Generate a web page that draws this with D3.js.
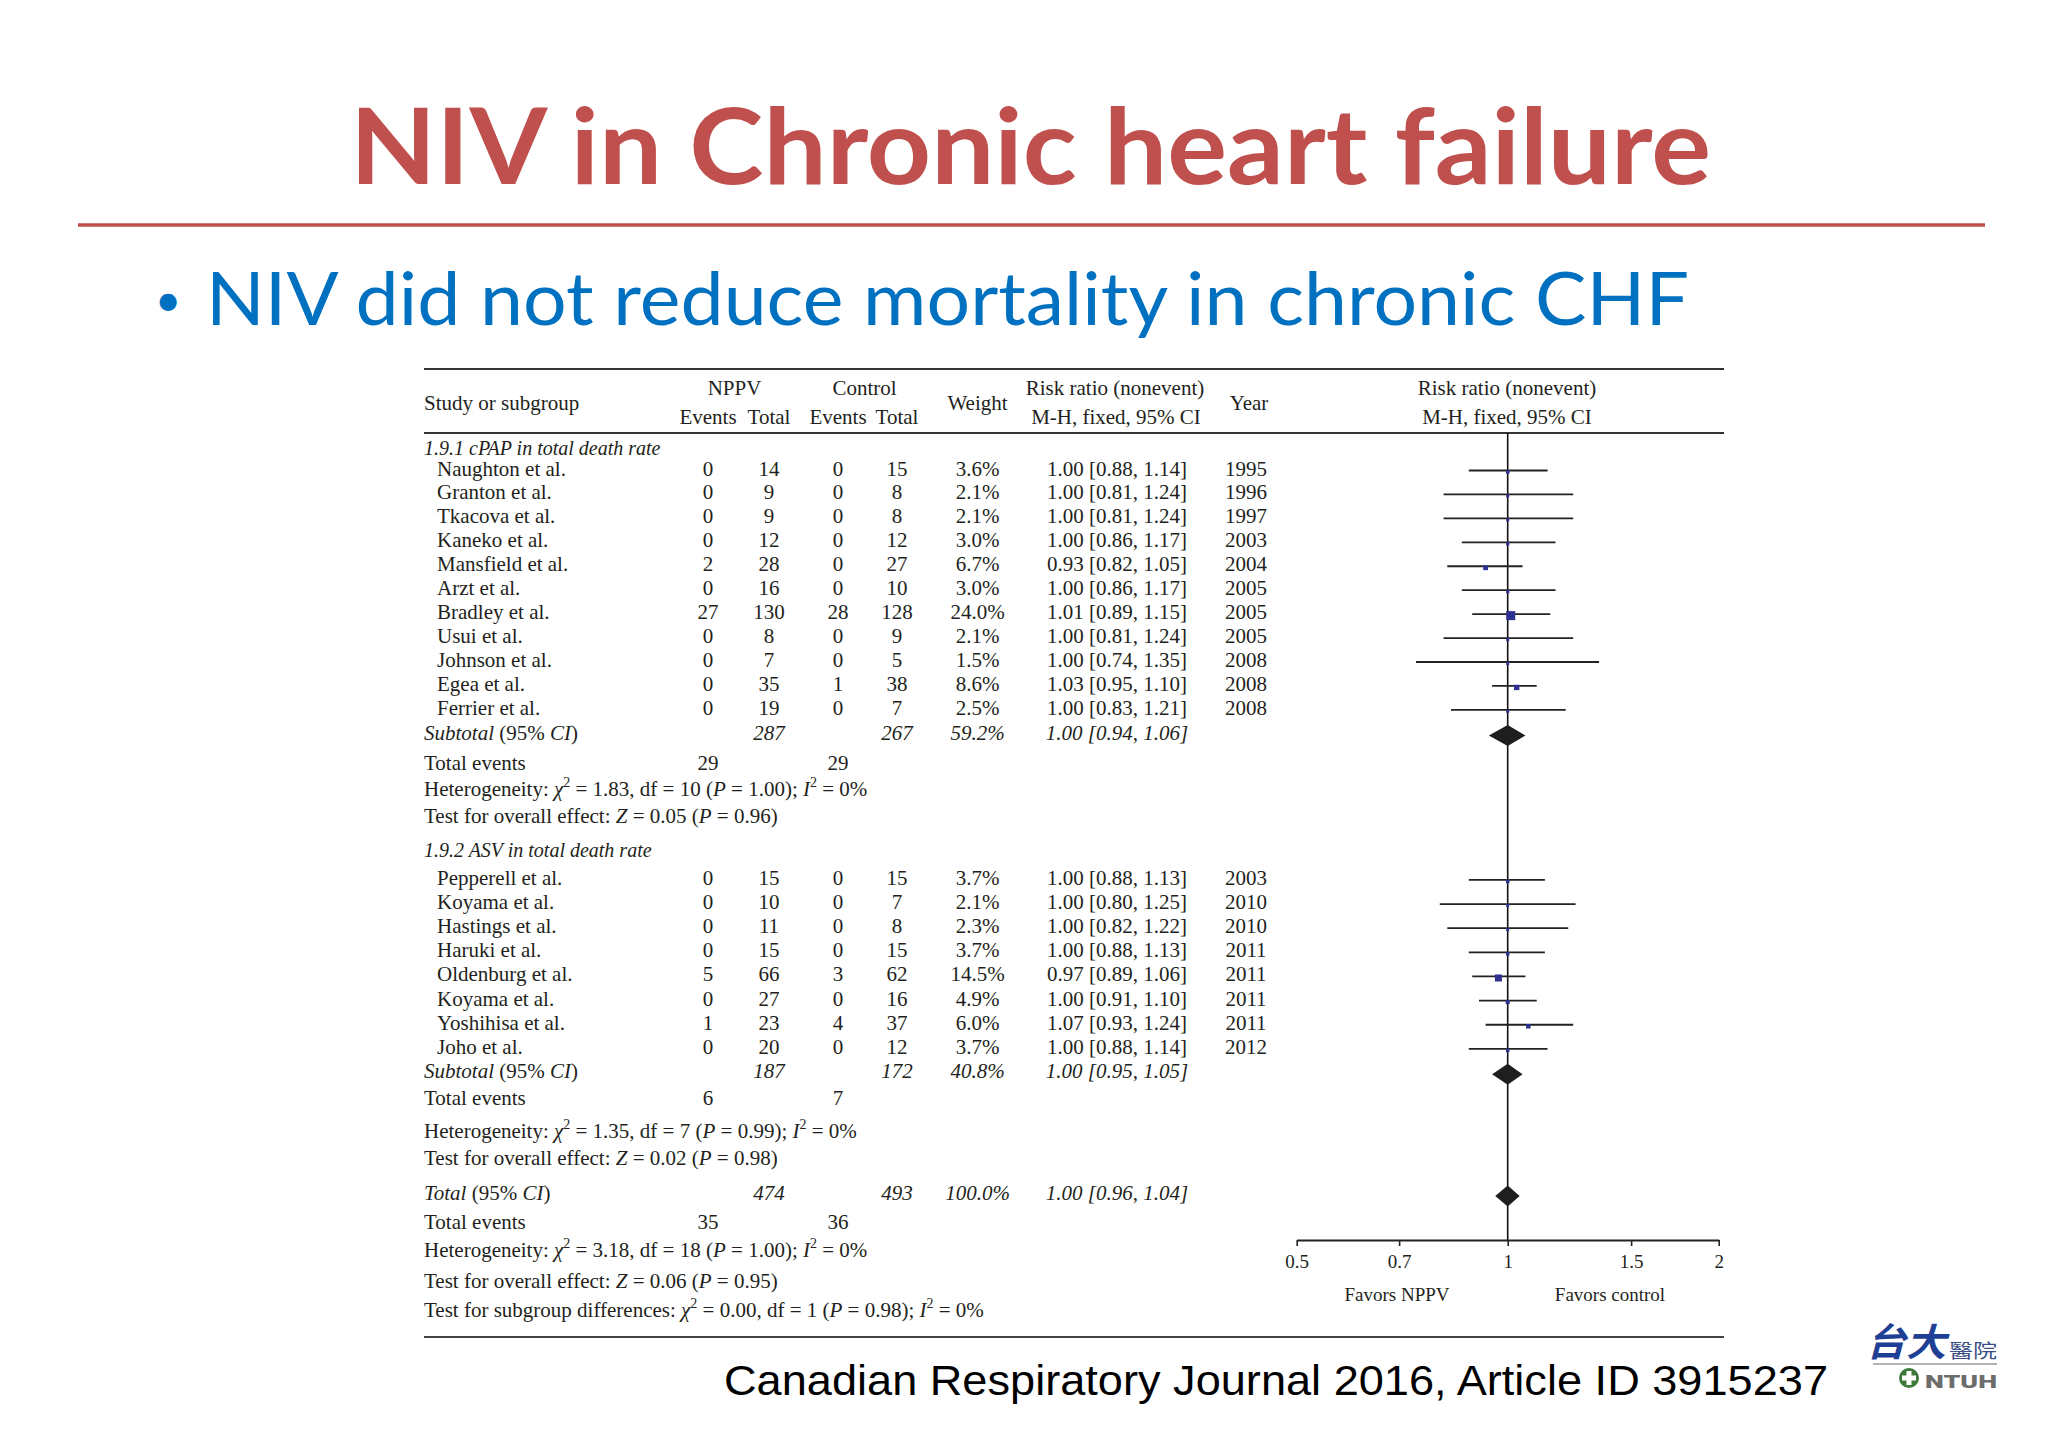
<!DOCTYPE html>
<html>
<head>
<meta charset="utf-8">
<script src="https://cdn.jsdelivr.net/npm/d3@7"></script>
<style>
  body { margin: 0; background: #fff; }
  svg { display: block; }
</style>
</head>
<body>
<div id="slide"></div>
<script>
// ---- data ----
const titleText = "NIV in Chronic heart failure";
const bulletText = "NIV did not reduce mortality in chronic CHF";
const sourceText = "Canadian Respiratory Journal 2016, Article ID 3915237";

const groupLabels = ["1.9.1 cPAP in total death rate", "1.9.2 ASV in total death rate"];

const cpapStudies = ["Naughton et al.", "Granton et al.", "Tkacova et al.", "Kaneko et al.", "Mansfield et al.",
    "Arzt et al.", "Bradley et al.", "Usui et al.", "Johnson et al.", "Egea et al.", "Ferrier et al."];
const cpapNppvEvents = [0, 0, 0, 0, 2, 0, 27, 0, 0, 0, 0];
const cpapNppvTotal = [14, 9, 9, 12, 28, 16, 130, 8, 7, 35, 19];
const cpapCtrlEvents = [0, 0, 0, 0, 0, 0, 28, 0, 0, 1, 0];
const cpapCtrlTotal = [15, 8, 8, 12, 27, 10, 128, 9, 5, 38, 7];
const cpapWeight = [3.6, 2.1, 2.1, 3.0, 6.7, 3.0, 24.0, 2.1, 1.5, 8.6, 2.5];
const cpapRR = [1.00, 1.00, 1.00, 1.00, 0.93, 1.00, 1.01, 1.00, 1.00, 1.03, 1.00];
const cpapLow = [0.88, 0.81, 0.81, 0.86, 0.82, 0.86, 0.89, 0.81, 0.74, 0.95, 0.83];
const cpapHigh = [1.14, 1.24, 1.24, 1.17, 1.05, 1.17, 1.15, 1.24, 1.35, 1.10, 1.21];
const cpapYear = [1995, 1996, 1997, 2003, 2004, 2005, 2005, 2005, 2008, 2008, 2008];

const asvStudies = ["Pepperell et al.", "Koyama et al.", "Hastings et al.", "Haruki et al.", "Oldenburg et al.",
    "Koyama et al.", "Yoshihisa et al.", "Joho et al."];
const asvNppvEvents = [0, 0, 0, 0, 5, 0, 1, 0];
const asvNppvTotal = [15, 10, 11, 15, 66, 27, 23, 20];
const asvCtrlEvents = [0, 0, 0, 0, 3, 0, 4, 0];
const asvCtrlTotal = [15, 7, 8, 15, 62, 16, 37, 12];
const asvWeight = [3.7, 2.1, 2.3, 3.7, 14.5, 4.9, 6.0, 3.7];
const asvRR = [1.00, 1.00, 1.00, 1.00, 0.97, 1.00, 1.07, 1.00];
const asvLow = [0.88, 0.80, 0.82, 0.88, 0.89, 0.91, 0.93, 0.88];
const asvHigh = [1.13, 1.25, 1.22, 1.13, 1.06, 1.10, 1.24, 1.14];
const asvYear = [2003, 2010, 2010, 2011, 2011, 2011, 2011, 2012];

// subgroup 1, subgroup 2, overall
const pooledNppvTotal = [287, 187, 474];
const pooledCtrlTotal = [267, 172, 493];
const pooledWeight = ["59.2%", "40.8%", "100.0%"];
const pooledRR = [1.00, 1.00, 1.00];
const pooledLow = [0.94, 0.95, 0.96];
const pooledHigh = [1.06, 1.05, 1.04];
const pooledNppvEvents = [29, 6, 35];
const pooledCtrlEvents = [29, 7, 36];
const hetChi = ["1.83", "1.35", "3.18"];
const hetDf = [10, 7, 18];
const hetP = ["1.00", "0.99", "1.00"];
const hetI2 = [0, 0, 0];
const zValue = ["0.05", "0.02", "0.06"];
const zP = ["0.96", "0.98", "0.95"];
const subgroupTest = {chi: "0.00", df: 1, p: "0.98", i2: 0};

const axisTicks = [0.5, 0.7, 1, 1.5, 2];
const axisLabels = ["0.5", "0.7", "1", "1.5", "2"];
const favorLabels = ["Favors NPPV", "Favors control"];

// ---- drawing ----
const W = 2048, H = 1447;
const svg = d3.select("#slide").append("svg")
    .attr("width", W).attr("height", H);
svg.append("rect").attr("width", W).attr("height", H).attr("fill", "#fff");

const RED = "#C0504D", BLUE = "#0070C0", INK = "#231f20";
const SERIF = "'Liberation Serif', 'DejaVu Serif', serif";

// title + rule
svg.append("text")
    .attr("x", 350).attr("y", 184)
    .attr("textLength", 1361).attr("lengthAdjust", "spacingAndGlyphs")
    .attr("font-family", "Lato, 'Open Sans', sans-serif")
    .attr("font-weight", 700).attr("font-size", 106)
    .attr("fill", RED).text(titleText);

svg.append("line")
    .attr("x1", 78).attr("x2", 1985).attr("y1", 225).attr("y2", 225)
    .attr("stroke", RED).attr("stroke-width", 3.5);

svg.append("text")
    .attr("x", 168).attr("y", 316).attr("text-anchor", "middle")
    .attr("font-family", "Lato, sans-serif").attr("font-size", 46)
    .attr("fill", BLUE).text("\u2022");
svg.append("text")
    .attr("x", 206).attr("y", 325)
    .attr("textLength", 1483).attr("lengthAdjust", "spacingAndGlyphs")
    .attr("font-family", "Lato, 'Open Sans', sans-serif")
    .attr("font-size", 74).attr("fill", BLUE).text(bulletText);

// ---- forest table ----
const tableLeft = 424, tableRight = 1724;
const col = {name: 437, label: 424, nEv: 708, nTot: 769, cEv: 838, cTot: 897, weight: 977.5, rr: 1117, year: 1246};
const fs = 21;
const g = svg.append("g").attr("font-family", SERIF).attr("font-size", fs).attr("fill", INK);

// text helper: segments [text, style] style = "" | "i" | "sup"
function rich(x, y, segs, anchor, size) {
    const t = g.append("text").attr("x", x).attr("y", y + 7)
        .attr("text-anchor", anchor || "start");
    if (size) t.attr("font-size", size);
    let raised = false;
    segs.forEach(s => {
        const span = t.append("tspan").text(s[0]);
        if (s[1] === "i") span.attr("font-style", "italic");
        if (s[1] === "sup") {
            span.attr("font-size", 14).attr("dy", -9);
            raised = true;
        } else if (raised) {
            span.attr("dy", 9);
            raised = false;
        }
    });
    return t;
}
function plain(x, y, str, anchor, italic, size) {
    return rich(x, y, [[String(str), italic ? "i" : ""]], anchor || "middle", size);
}

const hdrLine1 = 388, hdrLine2 = 417, hdrMid = 403;
g.append("line").attr("x1", tableLeft).attr("x2", tableRight).attr("y1", 369).attr("y2", 369)
    .attr("stroke", "#333").attr("stroke-width", 2);
g.append("line").attr("x1", tableLeft).attr("x2", tableRight).attr("y1", 433).attr("y2", 433)
    .attr("stroke", "#333").attr("stroke-width", 2);
g.append("line").attr("x1", tableLeft).attr("x2", tableRight).attr("y1", 1337).attr("y2", 1337)
    .attr("stroke", "#444").attr("stroke-width", 2);

plain(col.label, hdrMid, "Study or subgroup", "start");
plain((col.nEv + col.nTot) / 2 - 4, hdrLine1, "NPPV");
plain(col.nEv, hdrLine2, "Events");
plain(col.nTot, hdrLine2, "Total");
plain((col.cEv + col.cTot) / 2 - 3, hdrLine1, "Control");
plain(col.cEv, hdrLine2, "Events");
plain(col.cTot, hdrLine2, "Total");
plain(col.weight, hdrMid, "Weight");
plain(1115, hdrLine1, "Risk ratio (nonevent)");
plain(1116, hdrLine2, "M-H, fixed, 95% CI");
plain(1249, hdrMid, "Year");
plain(1507, hdrLine1, "Risk ratio (nonevent)");
plain(1507, hdrLine2, "M-H, fixed, 95% CI");

// rows in order with vertical gap from previous row
function studyRows(names, nE, nT, cE, cT, w, rr, lo, hi, yr, firstGap, gap) {
    return names.map((n, i) => ({
        type: "study", name: n, nE: nE[i], nT: nT[i], cE: cE[i], cT: cT[i],
        w: w[i], rr: rr[i], lo: lo[i], hi: hi[i], year: yr[i],
        gap: i === 0 ? firstGap : gap
    }));
}
let rows = [];
rows.push({type: "group", k: 0, gap: 14.5});
rows = rows.concat(studyRows(cpapStudies, cpapNppvEvents, cpapNppvTotal, cpapCtrlEvents, cpapCtrlTotal,
    cpapWeight, cpapRR, cpapLow, cpapHigh, cpapYear, 21, 23.94));
rows.push({type: "pooled", k: 0, gap: 24.6});
rows.push({type: "events", k: 0, gap: 30.4});
rows.push({type: "het", k: 0, gap: 25.6});
rows.push({type: "z", k: 0, gap: 27.4});
rows.push({type: "group", k: 1, gap: 34.3});
rows = rows.concat(studyRows(asvStudies, asvNppvEvents, asvNppvTotal, asvCtrlEvents, asvCtrlTotal,
    asvWeight, asvRR, asvLow, asvHigh, asvYear, 27.7, 24.14));
rows.push({type: "pooled", k: 1, gap: 24.3});
rows.push({type: "events", k: 1, gap: 27.3});
rows.push({type: "het", k: 1, gap: 32.6});
rows.push({type: "z", k: 1, gap: 26.8});
rows.push({type: "pooled", k: 2, gap: 35});
rows.push({type: "events", k: 2, gap: 29});
rows.push({type: "het", k: 2, gap: 28.3});
rows.push({type: "z", k: 2, gap: 31});
rows.push({type: "subgroup", gap: 29});

let yCursor = 433;
rows.forEach(r => { yCursor += r.gap; r.y = yCursor; });

const x = d3.scaleLog().domain([0.5, 2]).range([1296.7, 1718.7]);
const fmt2 = d3.format(".2f");
const ciText = (rr, lo, hi) => fmt2(rr) + " [" + fmt2(lo) + ", " + fmt2(hi) + "]";

const plot = svg.append("g");
const axisY = 1240;

// line of no effect
plot.append("line")
    .attr("x1", x(1)).attr("x2", x(1)).attr("y1", 433).attr("y2", axisY)
    .attr("stroke", "#111").attr("stroke-width", 1.6);

rows.forEach(r => {
    if (r.type === "group") {
        plain(col.label, r.y, groupLabels[r.k], "start", true, 20);
    } else if (r.type === "study") {
        plain(col.name, r.y, r.name, "start");
        plain(col.nEv, r.y, r.nE);
        plain(col.nTot, r.y, r.nT);
        plain(col.cEv, r.y, r.cE);
        plain(col.cTot, r.y, r.cT);
        plain(col.weight, r.y, r.w.toFixed(1) + "%");
        plain(col.rr, r.y, ciText(r.rr, r.lo, r.hi));
        plain(col.year, r.y, r.year);
        plot.append("line")
            .attr("x1", x(r.lo)).attr("x2", x(r.hi)).attr("y1", r.y + 2).attr("y2", r.y + 2)
            .attr("stroke", "#222").attr("stroke-width", 1.8);
        const s = Math.max(3, 1.84 * Math.sqrt(r.w));
        plot.append("rect")
            .attr("x", x(r.rr) - s / 2).attr("y", r.y + 3.5 - s / 2)
            .attr("width", s).attr("height", s)
            .attr("fill", "#2e3192");
    } else if (r.type === "pooled") {
        const k = r.k;
        if (k < 2) rich(col.label, r.y, [["Subtotal", "i"], [" (95% ", ""], ["CI", "i"], [")", ""]]);
        else rich(col.label, r.y, [["Total", "i"], [" (95% ", ""], ["CI", "i"], [")", ""]]);
        plain(col.nTot, r.y, pooledNppvTotal[k], "middle", true);
        plain(col.cTot, r.y, pooledCtrlTotal[k], "middle", true);
        plain(col.weight, r.y, pooledWeight[k], "middle", true);
        plain(col.rr, r.y, ciText(pooledRR[k], pooledLow[k], pooledHigh[k]), "middle", true);
        const cy = r.y + 3;
        const pts = [[x(pooledLow[k]), cy], [x(pooledRR[k]), cy - 10.5],
                     [x(pooledHigh[k]), cy], [x(pooledRR[k]), cy + 10.5]];
        plot.append("path").attr("d", d3.line()(pts) + "Z").attr("fill", "#1e1e1e");
    } else if (r.type === "events") {
        plain(col.label, r.y, "Total events", "start");
        plain(col.nEv, r.y, pooledNppvEvents[r.k]);
        plain(col.cEv, r.y, pooledCtrlEvents[r.k]);
    } else if (r.type === "het") {
        const k = r.k;
        rich(col.label, r.y, [["Heterogeneity: ", ""], ["\u03c7", "i"], ["2", "sup"],
            [" = " + hetChi[k] + ", df = " + hetDf[k] + " (", ""], ["P", "i"],
            [" = " + hetP[k] + "); ", ""], ["I", "i"], ["2", "sup"], [" = " + hetI2[k] + "%", ""]]);
    } else if (r.type === "z") {
        const k = r.k;
        rich(col.label, r.y, [["Test for overall effect: ", ""], ["Z", "i"],
            [" = " + zValue[k] + " (", ""], ["P", "i"], [" = " + zP[k] + ")", ""]]);
    } else if (r.type === "subgroup") {
        rich(col.label, r.y, [["Test for subgroup differences: ", ""], ["\u03c7", "i"], ["2", "sup"],
            [" = " + subgroupTest.chi + ", df = " + subgroupTest.df + " (", ""], ["P", "i"],
            [" = " + subgroupTest.p + "); ", ""], ["I", "i"], ["2", "sup"], [" = " + subgroupTest.i2 + "%", ""]]);
    }
});

// x axis
const axis = d3.axisBottom(x)
    .tickValues(axisTicks)
    .tickFormat((d, i) => axisLabels[i])
    .tickSize(6).tickSizeOuter(0).tickPadding(9);
const ax = plot.append("g").attr("transform", `translate(0,${axisY})`).call(axis);
ax.select(".domain").attr("stroke", "#222").attr("stroke-width", 2);
ax.selectAll(".tick line").attr("stroke", "#222").attr("stroke-width", 1.6);
ax.selectAll(".tick text").attr("font-family", SERIF).attr("font-size", 19).attr("fill", INK);

plot.append("text").attr("x", 1397).attr("y", 1301).attr("text-anchor", "middle")
    .attr("font-family", SERIF).attr("font-size", 19).attr("fill", INK).text(favorLabels[0]);
plot.append("text").attr("x", 1610).attr("y", 1301).attr("text-anchor", "middle")
    .attr("font-family", SERIF).attr("font-size", 19).attr("fill", INK).text(favorLabels[1]);

// source line
svg.append("text")
    .attr("x", 724).attr("y", 1395)
    .attr("textLength", 1104).attr("lengthAdjust", "spacingAndGlyphs")
    .attr("font-family", "'Liberation Sans', Arial, sans-serif")
    .attr("font-size", 42).attr("fill", "#000").text(sourceText);

// hospital mark
const logo = svg.append("g");
logo.append("text").attr("x", 1866).attr("y", 1356)
    .attr("textLength", 80).attr("lengthAdjust", "spacingAndGlyphs")
    .attr("font-family", "'Noto Sans CJK TC', sans-serif").attr("font-weight", 700)
    .attr("font-size", 38).attr("font-style", "italic").attr("fill", "#1f3f94").text("台大");
logo.append("text").attr("x", 1949).attr("y", 1358)
    .attr("textLength", 48).attr("lengthAdjust", "spacingAndGlyphs")
    .attr("font-family", "'Noto Sans CJK TC', sans-serif")
    .attr("font-size", 19).attr("fill", "#3b4f86").text("醫院");
logo.append("line").attr("x1", 1873).attr("x2", 1997).attr("y1", 1364).attr("y2", 1364)
    .attr("stroke", "#9a9a9a").attr("stroke-width", 1.5);
logo.append("circle").attr("cx", 1909).attr("cy", 1378).attr("r", 10).attr("fill", "#3d7a3a");
logo.append("rect").attr("x", 1906.5).attr("y", 1371).attr("width", 5).attr("height", 14).attr("fill", "#fff");
logo.append("rect").attr("x", 1902).attr("y", 1375.5).attr("width", 14).attr("height", 5).attr("fill", "#fff");
logo.append("text").attr("x", 1925).attr("y", 1388)
    .attr("textLength", 72).attr("lengthAdjust", "spacingAndGlyphs")
    .attr("font-family", "Roboto, sans-serif").attr("font-weight", 900)
    .attr("font-size", 19).attr("fill", "#6d6d6d").text("NTUH");
</script>
</body>
</html>
